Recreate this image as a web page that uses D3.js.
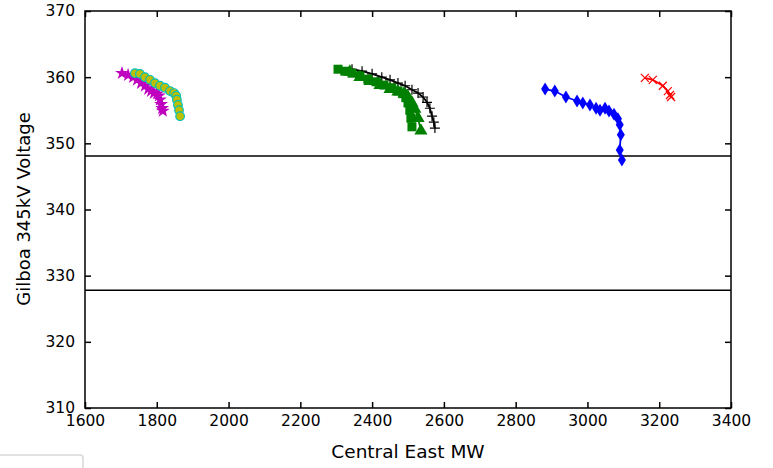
<!DOCTYPE html>
<html><head><meta charset="utf-8">
<script src="https://cdn.jsdelivr.net/npm/d3@7"></script>
<style>body{margin:0;background:#fff}svg{display:block}text{font-family:"DejaVu Sans",sans-serif}</style>
</head><body>
<svg id="c" width="773" height="468"></svg>
<script>
const xTicks = [1600,1800,2000,2200,2400,2600,2800,3000,3200,3400];
const yTicks = [310,320,330,340,350,360,370];
const limitLines = [348.1, 327.8];

const magentaX = [1703,1720,1734,1745,1756,1767,1776,1784,1792,1801,1806,1809,1812,1815,1817];
const magentaY = [360.6,360.3,360.0,359.6,359.1,358.7,358.2,357.9,357.6,357.5,357.2,356.6,355.9,355.3,354.9];
const yellowX = [1739,1753,1767,1781,1795,1809,1823,1837,1848,1854,1856,1859,1862,1865];
const yellowY = [360.6,360.5,360.0,359.6,359.1,358.7,358.4,357.9,357.6,357.2,356.6,355.8,355.0,354.1];
const greenSqX = [2305,2324,2344,2366,2388,2411,2433,2455,2472,2486,2494,2500,2505,2508,2511];
const greenSqY = [361.2,360.9,360.6,360.2,359.7,359.3,358.8,358.4,357.9,357.5,356.9,356.1,355.0,353.8,352.5];
const greenTriX = [2338,2366,2394,2422,2450,2472,2489,2500,2511,2519,2528,2536];
const greenTriY = [360.8,360.0,359.4,358.8,358.2,357.8,357.5,357.0,356.1,355.2,353.8,351.9];
const blackX = [2344,2372,2400,2427,2450,2472,2492,2511,2528,2542,2553,2561,2567,2572,2575];
const blackY = [361.2,360.9,360.5,360.0,359.6,359.1,358.7,358.1,357.6,357.0,356.2,355.3,354.1,353.2,352.3];
const blueX = [2882,2909,2940,2971,2987,3007,3024,3035,3049,3060,3074,3085,3090,3093,3090,3096];
const blueY = [358.2,357.9,357.0,356.4,356.1,355.8,355.3,355.0,355.3,354.9,354.4,353.7,352.8,351.3,349.0,347.5];
const redX = [3160,3182,3210,3224,3230,3233];
const redY = [359.9,359.6,358.7,357.9,357.3,357.0];

const svg = d3.select("#c");
const L=85, R=731, T=11, B=408;
const x = d3.scaleLinear().domain([1600,3400]).range([L,R]);
const y = d3.scaleLinear().domain([310,370]).range([B,T]);

// legend box fragment
svg.append("rect").attr("x",-10).attr("y",455).attr("width",93).attr("height",40).attr("rx",3)
  .attr("fill","#fff").attr("stroke","#d8d8d8").attr("stroke-width",1.5);

// limit lines
limitLines.forEach(v=>{
  svg.append("line").attr("x1",L).attr("x2",R).attr("y1",y(v)).attr("y2",y(v))
    .attr("stroke","#000").attr("stroke-width",1.5);
});

const series = [
  {xs:blackX, ys:blackY, color:"#000", marker:"plus"},
  {xs:greenSqX, ys:greenSqY, color:"#008000", marker:"square"},
  {xs:greenTriX, ys:greenTriY, color:"#008000", marker:"triangle"},
  {xs:blueX, ys:blueY, color:"#0000ff", marker:"diamond"},
  {xs:redX, ys:redY, color:"#ff0000", marker:"x"},
  {xs:magentaX, ys:magentaY, color:"#bf00bf", marker:"star"},
  {xs:yellowX, ys:yellowY, color:"#bfbf00", edge:"#00bfbf", marker:"circle"}
];
const lineGen = d3.line().x(d=>x(d[0])).y(d=>y(d[1]));
series.forEach(s=>{
  const pts = s.xs.map((v,i)=>[v,s.ys[i]]);
  const g = svg.append("g");
  g.append("path").attr("d",lineGen(pts)).attr("fill","none").attr("stroke",s.color).attr("stroke-width",1.8);
  pts.forEach(p=>{
    const cx=x(p[0]), cy=y(p[1]);
    if(s.marker==="plus"){
      g.append("path").attr("d",`M${cx-5},${cy}H${cx+5}M${cx},${cy-5}V${cy+5}`).attr("stroke",s.color).attr("stroke-width",1.2);
    } else if(s.marker==="x"){
      g.append("path").attr("d",`M${cx-4},${cy-4}L${cx+4},${cy+4}M${cx-4},${cy+4}L${cx+4},${cy-4}`).attr("stroke",s.color).attr("stroke-width",1.2);
    } else if(s.marker==="square"){
      g.append("rect").attr("x",cx-4.5).attr("y",cy-4.5).attr("width",9).attr("height",9).attr("fill",s.color);
    } else if(s.marker==="triangle"){
      g.append("path").attr("d",d3.symbol(d3.symbolTriangle,75)()).attr("transform",`translate(${cx},${cy})`).attr("fill",s.color);
    } else if(s.marker==="diamond"){
      g.append("path").attr("d",`M${cx},${cy-6.5}L${cx+4},${cy}L${cx},${cy+6.5}L${cx-4},${cy}Z`).attr("fill",s.color);
    } else if(s.marker==="star"){
      g.append("path").attr("d",d3.symbol(d3.symbolStar,60)()).attr("transform",`translate(${cx},${cy})`).attr("fill",s.color);
    } else if(s.marker==="circle"){
      g.append("circle").attr("cx",cx).attr("cy",cy).attr("r",4.3).attr("fill",s.color).attr("stroke",s.edge).attr("stroke-width",1.2);
    }
  });
});

// frame
svg.append("rect").attr("x",L).attr("y",T).attr("width",R-L).attr("height",B-T)
  .attr("fill","none").attr("stroke","#000").attr("stroke-width",1.5);

function styleAxis(g){
  g.select(".domain").remove();
  g.selectAll(".tick line").attr("stroke","#000").attr("stroke-width",1.5);
  g.selectAll(".tick text").attr("font-family","DejaVu Sans").attr("font-size",15.5).attr("fill","#000");
}
svg.append("g").attr("transform",`translate(0,${B})`)
  .call(d3.axisBottom(x).tickValues(xTicks).tickFormat(d3.format("d")).tickSizeInner(-6).tickPadding(7)).call(styleAxis);
svg.append("g").attr("transform",`translate(0,${T})`)
  .call(d3.axisTop(x).tickValues(xTicks).tickFormat("").tickSizeInner(-6)).call(styleAxis);
svg.append("g").attr("transform",`translate(${L},0)`)
  .call(d3.axisLeft(y).tickValues(yTicks).tickFormat(d3.format("d")).tickSizeInner(-6).tickPadding(10)).call(styleAxis);
svg.append("g").attr("transform",`translate(${R},0)`)
  .call(d3.axisRight(y).tickValues(yTicks).tickFormat("").tickSizeInner(-6)).call(styleAxis);

svg.append("text").attr("x",408).attr("y",458).attr("text-anchor","middle").attr("font-size",18.5).text("Central East MW");
svg.append("text").attr("transform",`translate(30,209) rotate(-90)`).attr("text-anchor","middle").attr("font-size",18).text("Gilboa 345kV Voltage");
</script>
</body></html>
